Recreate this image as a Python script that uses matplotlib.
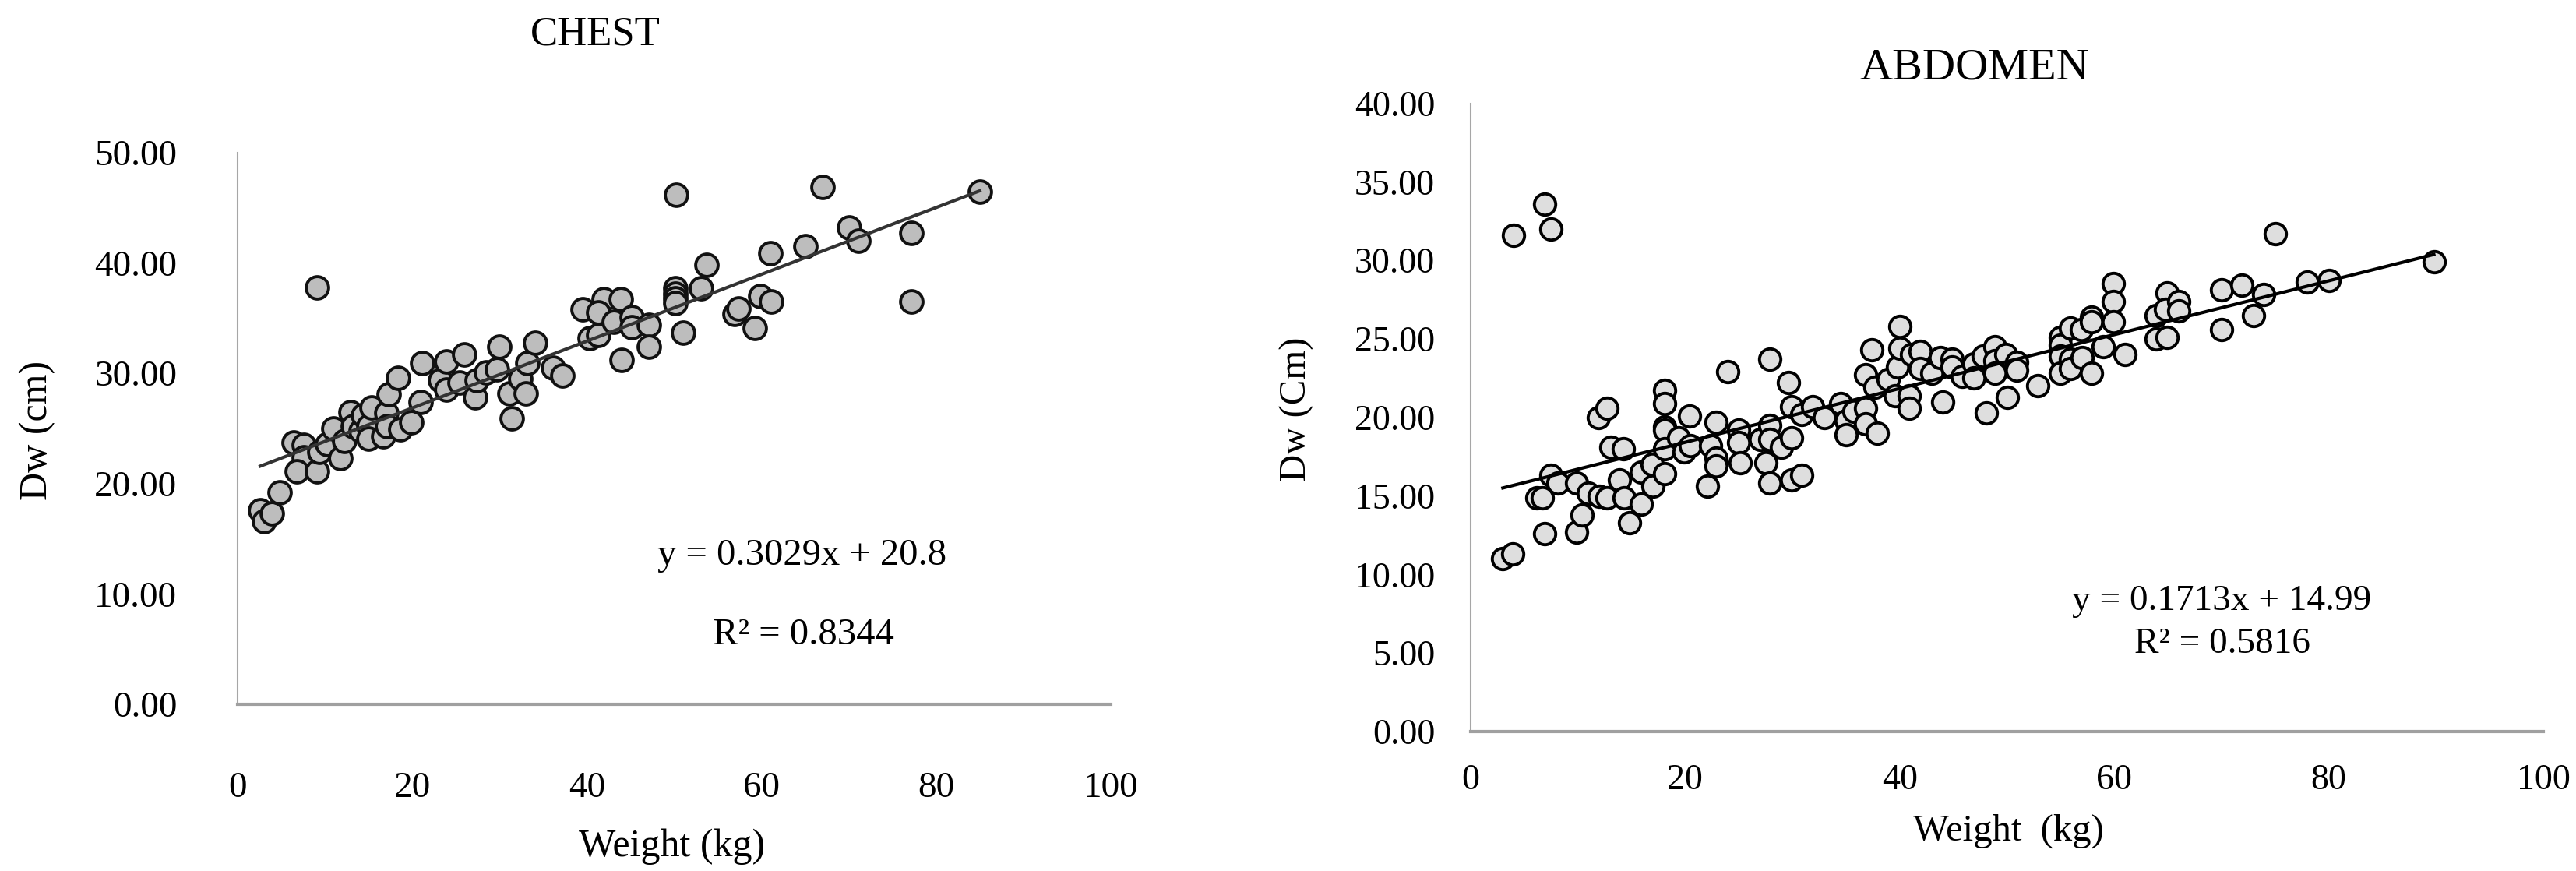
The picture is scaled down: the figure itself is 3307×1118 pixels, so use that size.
import matplotlib
matplotlib.use("Agg")
import matplotlib.pyplot as plt
from matplotlib.ticker import FormatStrFormatter, MultipleLocator

# CHEST: weight (kg) vs Dw (cm)
chest_weight = [2.6, 3.0, 3.9, 4.8, 6.4, 7.6, 7.6, 6.8, 9.1, 9.1, 9.4, 10.3, 11.0, 11.8,
                12.2, 12.9, 13.2, 14.1, 14.4, 15.0, 15.3, 15.0, 16.7, 17.0, 17.3, 17.1,
                18.4, 18.6, 19.9, 21.0, 21.1, 23.2, 23.9, 23.9, 25.4, 26.0, 27.2, 27.4,
                28.5, 29.7, 30.0, 31.1, 31.4, 32.4, 33.0, 33.2, 34.1, 36.1, 37.2, 39.5,
                40.3, 41.3, 41.9, 41.3, 43.1, 43.9, 44.0, 45.1, 45.1, 47.1, 47.1, 50.2,
                50.1, 50.1, 50.1, 50.1, 53.1, 53.7, 51.0, 56.9, 57.4, 59.2, 59.9, 61.1,
                61.0, 65.0, 67.0, 70.0, 71.1, 77.2, 77.2, 85.0]
chest_dw = [17.6, 16.6, 17.3, 19.2, 23.7, 23.5, 22.4, 21.1, 21.1, 37.8, 22.9, 23.6, 25.0, 22.3,
            23.9, 26.5, 25.2, 24.8, 26.2, 25.2, 26.9, 24.1, 24.3, 26.4, 28.1, 25.2,
            29.6, 24.9, 25.6, 27.4, 30.9, 29.4, 31.1, 28.5, 29.2, 31.7, 27.8, 29.4,
            30.1, 30.4, 32.4, 28.2, 25.9, 29.5, 28.2, 30.9, 32.8, 30.5, 29.8, 35.8,
            33.2, 33.5, 36.7, 35.5, 34.7, 36.7, 31.2, 35.1, 34.2, 34.4, 32.4, 46.2,
            37.7, 37.2, 36.8, 36.4, 37.7, 39.8, 33.7, 35.4, 35.9, 34.1, 37.0, 36.5,
            40.9, 41.5, 46.9, 43.2, 42.0, 42.7, 36.5, 46.5]
chest_slope, chest_intercept, chest_r2 = 0.3029, 20.8, 0.8344

# ABDOMEN: weight (kg) vs Dw (cm)
abd_weight = [3.0, 3.9, 4.0, 6.9, 7.5, 6.2, 6.7, 6.9, 7.5, 8.1, 9.9, 9.9, 10.4, 11.0, 11.9,
              12.7, 12.0, 12.7, 13.1, 13.9, 14.2, 14.3, 14.8, 15.9, 15.9, 16.9, 17.0, 18.1,
              18.1, 18.1, 18.1, 18.1, 18.1, 19.4, 19.9, 20.4, 20.5, 22.1, 22.4, 22.9, 22.9,
              22.9, 24.0, 25.0, 25.0, 25.1, 27.0, 27.5, 27.9, 27.9, 27.9, 27.9, 29.0, 29.6,
              29.9, 29.9, 29.9, 30.9, 30.9, 31.9, 33.0, 34.5, 35.0, 35.0, 35.7, 36.8, 36.8,
              36.8, 37.4, 37.9, 37.7, 38.9, 39.6, 39.8, 40.0, 40.0, 40.9, 40.9, 41.1, 41.9,
              41.9, 43.0, 43.8, 44.0, 44.9, 44.9, 45.8, 46.9, 46.9, 47.8, 48.1, 48.9, 48.9,
              48.9, 49.9, 50.0, 50.9, 50.9, 52.9, 55.0, 55.0, 55.0, 55.0, 55.9, 55.9, 55.9,
              56.9, 57.0, 57.9, 57.9, 57.9, 59.0, 59.9, 59.9, 59.9, 61.0, 63.9, 63.9, 64.9,
              64.9, 64.8, 66.0, 66.0, 70.0, 70.0, 71.9, 73.0, 73.9, 75.0, 78.0, 80.0, 89.8]
abd_dw = [11.0, 11.3, 31.6, 33.6, 32.0, 14.9, 14.9, 12.6, 16.3, 15.8, 15.8, 12.7, 13.8, 15.2, 20.0,
          20.6, 15.0, 14.9, 18.1, 16.0, 18.0, 14.9, 13.3, 14.5, 16.5, 17.0, 15.6, 16.4,
          21.7, 20.9, 19.4, 19.2, 18.0, 18.7, 17.8, 20.1, 18.2, 15.6, 18.2, 19.7, 17.4,
          16.9, 22.9, 19.2, 18.4, 17.1, 18.6, 17.1, 23.7, 19.5, 18.6, 15.8, 18.1, 22.2,
          20.7, 18.7, 16.0, 16.3, 20.2, 20.7, 20.0, 20.9, 19.8, 18.9, 20.4, 20.6, 19.6,
          22.7, 24.3, 19.0, 21.9, 22.4, 21.4, 23.2, 25.8, 24.4, 21.4, 20.6, 24.0, 24.2,
          23.1, 22.8, 23.8, 21.0, 23.7, 23.2, 22.6, 23.4, 22.5, 23.9, 20.3, 24.5, 23.6,
          22.8, 24.0, 21.3, 23.5, 23.0, 22.0, 25.1, 24.6, 23.9, 22.8, 25.7, 23.7, 23.1,
          25.6, 23.8, 26.4, 26.1, 22.8, 24.5, 28.5, 27.4, 26.1, 24.0, 26.5, 25.0, 25.1,
          27.9, 26.9, 27.4, 26.8, 28.1, 25.6, 28.4, 26.5, 27.8, 31.7, 28.6, 28.7, 29.9]
abd_slope, abd_intercept, abd_r2 = 0.1713, 14.99, 0.5816

W, H = 3307, 1118
serif = "Liberation Serif"
plt.rcParams["font.family"] = serif
plt.rcParams["text.color"] = "black"

fig = plt.figure(figsize=(W / 100, H / 100), dpi=100)
fig.patch.set_facecolor("white")


def px(x, y):
    return x / W, 1 - y / H


def style_axes(ax, ymax, ystep, tick_size, xpad, ypad):
    ax.set_xlim(0, 100)
    ax.set_ylim(0, ymax)
    ax.xaxis.set_major_locator(MultipleLocator(20))
    ax.yaxis.set_major_locator(MultipleLocator(ystep))
    ax.yaxis.set_major_formatter(FormatStrFormatter("%.2f"))
    for side in ["top", "right"]:
        ax.spines[side].set_visible(False)
    ax.spines["left"].set_color("#a6a6a6")
    ax.spines["left"].set_linewidth(1.5)
    ax.spines["bottom"].set_color("#a0a0a0")
    ax.spines["bottom"].set_linewidth(3)
    ax.tick_params(axis="x", length=0, labelsize=tick_size, pad=xpad, colors="black")
    ax.tick_params(axis="y", length=0, labelsize=tick_size, pad=ypad, colors="black")
    for lab in ax.get_xticklabels() + ax.get_yticklabels():
        lab.set_fontfamily(serif)


# left panel: CHEST
ax1 = fig.add_axes([305 / W, (H - 904) / H, (1426 - 305) / W, (904 - 196) / H])
style_axes(ax1, 50, 10, 34, 62, 56)
ax1.scatter(chest_weight, chest_dw, s=430, facecolor="#bdbdbd", edgecolor="#111111",
            linewidths=2.8, zorder=3, clip_on=False)
lx = [min(chest_weight), max(chest_weight)]
ax1.plot(lx, [chest_slope * v + chest_intercept for v in lx], color="#333333", lw=3.0, zorder=4)

fig.text(*px(764, 45), "CHEST", fontsize=38, ha="center", va="center")
fig.text(*px(48, 552), "Dw (cm)", fontsize=36, rotation=90, ha="center", va="center")
fig.text(*px(863, 1087), "Weight (kg)", fontsize=36, ha="center", va="center")
fig.text(*px(1030, 713), f"y = {chest_slope}x + {chest_intercept}", fontsize=35,
         ha="center", va="center")
fig.text(*px(1031, 815), f"R² = {chest_r2}", fontsize=35, ha="center", va="center")

# right panel: ABDOMEN
ax2 = fig.add_axes([1888 / W, (H - 939) / H, (3265 - 1888) / W, (939 - 132.5) / H])
style_axes(ax2, 40, 5, 33, 30, 33)
ax2.scatter(abd_weight, abd_dw, s=390, facecolor="#dedede", edgecolor="#000000",
            linewidths=2.8, zorder=3, clip_on=False)
rx = [min(abd_weight), max(abd_weight)]
ax2.plot(rx, [abd_slope * v + abd_intercept for v in rx], color="#000000", lw=3.0, zorder=4)

fig.text(*px(2535, 87), "ABDOMEN", fontsize=42, ha="center", va="center")
fig.text(*px(1665, 525), "Dw (Cm)", fontsize=35, rotation=90, ha="center", va="center")
fig.text(*px(2578, 1067), "Weight  (kg)", fontsize=35, ha="center", va="center")
fig.text(*px(2852, 772), f"y = {abd_slope}x + {abd_intercept}", fontsize=34,
         ha="center", va="center")
fig.text(*px(2853, 827), f"R² = {abd_r2}", fontsize=34, ha="center", va="center")

fig.savefig("out.png", dpi=100, facecolor="white")
